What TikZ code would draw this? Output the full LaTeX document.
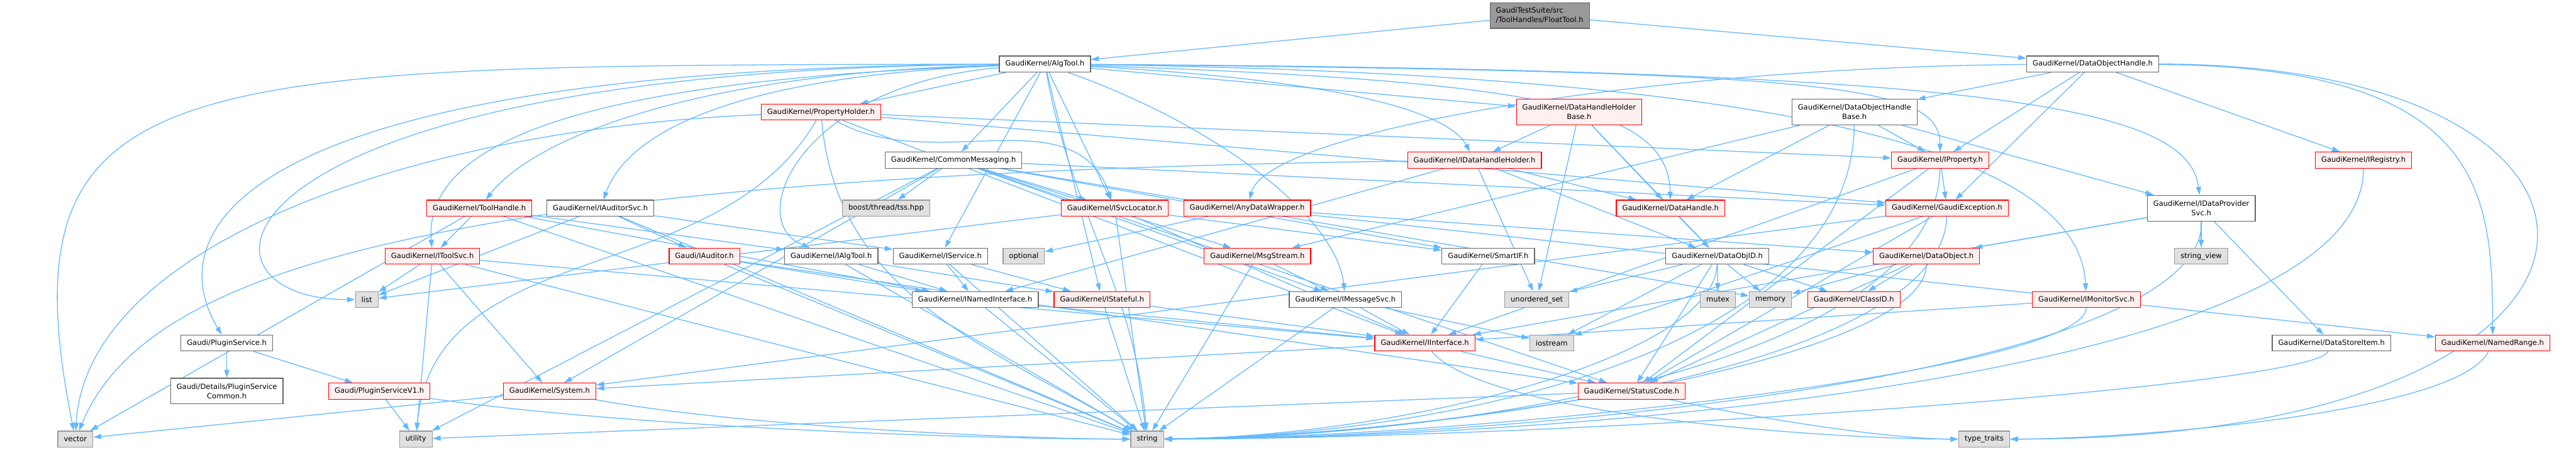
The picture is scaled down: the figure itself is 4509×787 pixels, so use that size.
\documentclass[tikz,border=0pt]{standalone}
\usepackage{fontspec}
\setmainfont{DejaVu Sans}
\usetikzlibrary{arrows.meta,backgrounds}
\definecolor{incblue}{RGB}{99,184,255}
\definecolor{incred}{RGB}{255,0,0}
\definecolor{incredbg}{RGB}{255,240,240}
\definecolor{incgrey}{RGB}{102,102,102}
\definecolor{incsys}{RGB}{153,153,153}
\definecolor{incsysbg}{RGB}{224,224,224}
\definecolor{incroot}{RGB}{153,153,153}

\begin{document}
\begin{tikzpicture}[
  x=0.005cm, y=0.005cm,
  every node/.style={font=\fontsize{1.81}{2.37}\selectfont},
  hdr/.style={rectangle,draw=incgrey,fill=white,line width=0.18pt,inner xsep=0.0525cm,inner ysep=0pt,minimum height=0.14cm,align=center},
  cut/.style={hdr,draw=incred,fill=incredbg},
  sys/.style={hdr,draw=incsys,fill=incsysbg},
  two/.style={minimum height=0.225cm},
  arr/.style={-{Triangle[length=0.7mm,width=0.45mm]},line width=0.2pt,draw=incblue}
]
\useasboundingbox (0,0) rectangle (4509,787);

\node[hdr,fill=incroot,align=left,two] (floattool) at (2695,760) {GaudiTestSuite/src\\/ToolHandles/FloatTool.h};
\node[hdr] (algtool) at (1829,675) {GaudiKernel/AlgTool.h};
\node[hdr] (dohandle) at (3663,675) {GaudiKernel/DataObjectHandle.h};
\node[cut] (propholder) at (1437,591) {GaudiKernel/PropertyHolder.h};
\node[cut,two] (dhhbase) at (2764,591) {GaudiKernel/DataHandleHolder\\Base.h};
\node[hdr,two] (dohbase) at (3246,591) {GaudiKernel/DataObjectHandle\\Base.h};
\node[hdr] (commsg) at (1669,507) {GaudiKernel/CommonMessaging.h};
\node[cut] (idhholder) at (2581,507) {GaudiKernel/IDataHandleHolder.h};
\node[cut] (iprop) at (3396,507) {GaudiKernel/IProperty.h};
\node[cut] (iregistry) at (4137,507) {GaudiKernel/IRegistry.h};
\node[cut] (toolhandle) at (839,423) {GaudiKernel/ToolHandle.h};
\node[hdr] (iauditorsvc) at (1051,423) {GaudiKernel/IAuditorSvc.h};
\node[sys] (tss) at (1551,423) {boost/thread/tss.hpp};
\node[cut] (isvcloc) at (1951,423) {GaudiKernel/ISvcLocator.h};
\node[cut] (anydata) at (2183,423) {GaudiKernel/AnyDataWrapper.h};
\node[cut] (datahandle) at (2924,423) {GaudiKernel/DataHandle.h};
\node[cut] (gaudiexc) at (3408,423) {GaudiKernel/GaudiException.h};
\node[hdr,two] (idpsvc) at (3853,423) {GaudiKernel/IDataProvider\\Svc.h};
\node[cut] (itoolsvc) at (757,339) {GaudiKernel/IToolSvc.h};
\node[cut] (iauditor) at (1233,339) {Gaudi/IAuditor.h};
\node[hdr] (ialgtool) at (1455,339) {GaudiKernel/IAlgTool.h};
\node[hdr] (iservice) at (1646,339) {GaudiKernel/IService.h};
\node[sys] (optional) at (1792,339) {optional};
\node[cut] (msgstream) at (2201,339) {GaudiKernel/MsgStream.h};
\node[hdr] (smartif) at (2605,339) {GaudiKernel/SmartIF.h};
\node[hdr] (dataobjid) at (3006,339) {GaudiKernel/DataObjID.h};
\node[cut] (dataobject) at (3372,339) {GaudiKernel/DataObject.h};
\node[sys] (stringview) at (3853,339) {string\_view};
\node[sys] (list) at (642,263) {list};
\node[hdr] (inamedif) at (1707,263) {GaudiKernel/INamedInterface.h};
\node[cut] (istateful) at (1929,263) {GaudiKernel/IStateful.h};
\node[hdr] (imsgsvc) at (2355,263) {GaudiKernel/IMessageSvc.h};
\node[sys] (unordset) at (2690,263) {unordered\_set};
\node[sys] (mutex) at (3007,263) {mutex};
\node[sys] (memory) at (3099,263) {memory};
\node[cut] (classid) at (3245,263) {GaudiKernel/ClassID.h};
\node[cut] (imonsvc) at (3652,263) {GaudiKernel/IMonitorSvc.h};
\node[hdr] (pluginsvc) at (397,187) {Gaudi/PluginService.h};
\node[cut] (iinterface) at (2494,187) {GaudiKernel/IInterface.h};
\node[sys] (iostream) at (2716,187) {iostream};
\node[hdr] (datastoreitem) at (4081,187) {GaudiKernel/DataStoreItem.h};
\node[cut] (namedrange) at (4363,187) {GaudiKernel/NamedRange.h};
\node[hdr,two] (pscommon) at (397,103) {Gaudi/Details/PluginService\\Common.h};
\node[cut] (psv1) at (664,103) {Gaudi/PluginServiceV1.h};
\node[cut] (system) at (962,103) {GaudiKernel/System.h};
\node[cut] (statuscode) at (2856,103) {GaudiKernel/StatusCode.h};
\node[sys] (vector) at (132,19) {vector};
\node[sys] (utility) at (728,19) {utility};
\node[sys] (string) at (2008,19) {string};
\node[sys] (typetraits) at (3473,19) {type\_traits};

\begin{scope}[on background layer]
\draw[arr] (floattool) -- (algtool);
\draw[arr] (floattool) -- (dohandle);

\draw[arr] (algtool) -- (propholder);
\draw[arr] (algtool) -- (commsg);
\draw[arr] (algtool) -- (isvcloc);
\draw[arr] (algtool) -- (istateful);
\draw[arr] (algtool) -- (dhhbase);
\draw[arr] (algtool) -- (iservice);
\draw[arr] (algtool) .. controls (2300,650) and (2530,600) .. (idhholder);
\draw[arr] (algtool) .. controls (2150,560) and (2340,400) .. (imsgsvc);
\draw[arr] (algtool) .. controls (2700,645) and (2920,600) .. (datahandle);
\draw[arr] (algtool) .. controls (3200,662) and (3395,640) .. (iprop);
\draw[arr] (algtool) .. controls (3500,665) and (3830,600) .. (idpsvc);
\draw[arr] (algtool) .. controls (3300,655) and (3640,480) .. (imonsvc);
\draw[arr] (algtool) .. controls (1200,660) and (930,540) .. (toolhandle);
\draw[arr] (algtool) .. controls (1300,655) and (1100,560) .. (iauditorsvc);
\draw[arr] (algtool) .. controls (1100,650) and (740,560) .. (itoolsvc);
\draw[arr] (algtool) .. controls (1400,640) and (1300,400) .. (ialgtool);
\draw[arr] (algtool) .. controls (400,668) and (280,380) .. (pluginsvc);
\draw[arr] (algtool) .. controls (350,665) and (300,263) .. (list);
\draw[arr] (algtool) .. controls (300,672) and (0,680) .. (vector);
\draw[arr] (algtool) to[out=-80,in=95] (string);

\draw[arr] (dohandle) -- (dohbase);
\draw[arr] (dohandle) -- (iprop);
\draw[arr] (dohandle) -- (gaudiexc);
\draw[arr] (dohandle) -- (iregistry);
\draw[arr] (dohandle) .. controls (2900,670) and (2220,560) .. (anydata);
\draw[arr] (dohandle) .. controls (4350,670) and (4363,450) .. (namedrange);
\draw[arr] (dohandle) .. controls (4700,675) and (4700,19) .. (typetraits);

\draw[arr] (propholder) -- (iprop);
\draw[arr] (propholder) -- (gaudiexc);
\draw[arr] (propholder) to[out=-30,in=110] (isvcloc);
\draw[arr] (propholder) .. controls (700,560) and (150,350) .. (vector);
\draw[arr] (propholder) to[out=-120,in=85] (utility);
\draw[arr] (propholder) to[out=-85,in=150] (string);
\draw[arr] (propholder) -- (iinterface);

\draw[arr] (dhhbase) -- (idhholder);
\draw[arr] (dhhbase) -- (datahandle);
\draw[arr] (dhhbase) -- (dataobjid);
\draw[arr] (dhhbase) -- (unordset);

\draw[arr] (dohbase) -- (datahandle);
\draw[arr] (dohbase) -- (iprop);
\draw[arr] (dohbase) -- (idpsvc);
\draw[arr] (dohbase) -- (msgstream);
\draw[arr] (dohbase) .. controls (3240,160) and (2500,24) .. (string);

\draw[arr] (commsg) -- (tss);
\draw[arr] (commsg) -- (isvcloc);
\draw[arr] (commsg) -- (gaudiexc);
\draw[arr] (commsg) -- (imsgsvc);
\draw[arr] (commsg) -- (msgstream);
\draw[arr] (commsg) -- (smartif);
\draw[arr] (commsg) -- (statuscode);
\draw[arr] (commsg) -- (system);
\draw[arr] (commsg) -- (memory);
\draw[arr] (commsg) -- (utility);

\draw[arr] (idhholder) -- (datahandle);
\draw[arr] (idhholder) -- (dataobjid);
\draw[arr] (idhholder) -- (inamedif);
\draw[arr] (idhholder) -- (unordset);
\draw[arr] (idhholder) .. controls (700,480) and (250,300) .. (vector);

\draw[arr] (iprop) -- (gaudiexc);
\draw[arr] (iprop) -- (iinterface);
\draw[arr] (iprop) -- (statuscode);
\draw[arr] (iprop) .. controls (3390,150) and (2550,22) .. (string);

\draw[arr] (iregistry) .. controls (4137,120) and (2700,20) .. (string);

\draw[arr] (toolhandle) -- (itoolsvc);
\draw[arr] (toolhandle) -- (ialgtool);
\draw[arr] (toolhandle) -- (inamedif);
\draw[arr] (toolhandle) -- (vector);
\draw[arr] (toolhandle) -- (string);

\draw[arr] (iauditorsvc) -- (iauditor);
\draw[arr] (iauditorsvc) -- (iservice);
\draw[arr] (iauditorsvc) -- (string);
\draw[arr] (iauditorsvc) -- (list);

\draw[arr] (iauditor) -- (inamedif);
\draw[arr] (iauditor) -- (string);
\draw[arr] (iauditor) -- (statuscode);

\draw[arr] (itoolsvc) -- (list);
\draw[arr] (itoolsvc) -- (system);
\draw[arr] (itoolsvc) -- (iinterface);
\draw[arr] (itoolsvc) -- (string);
\draw[arr] (itoolsvc) -- (utility);

\draw[arr] (ialgtool) -- (inamedif);
\draw[arr] (ialgtool) -- (istateful);
\draw[arr] (ialgtool) -- (string);

\draw[arr] (iservice) -- (inamedif);
\draw[arr] (iservice) -- (istateful);
\draw[arr] (iservice) -- (string);

\draw[arr] (isvcloc) -- (iinterface);
\draw[arr] (isvcloc) -- (smartif);
\draw[arr] (isvcloc) -- (list);
\draw[arr] (isvcloc) -- (string);

\draw[arr] (anydata) -- (dataobject);
\draw[arr] (anydata) -- (namedrange);
\draw[arr] (anydata) -- (optional);

\draw[arr] (datahandle) -- (dataobjid);

\draw[arr] (gaudiexc) -- (statuscode);
\draw[arr] (gaudiexc) -- (iostream);
\draw[arr] (gaudiexc) .. controls (3400,140) and (2520,26) .. (string);
\draw[arr] (gaudiexc) -- (system);

\draw[arr] (idpsvc) -- (dataobject);
\draw[arr] (idpsvc) -- (stringview);
\draw[arr] (idpsvc) -- (datastoreitem);
\draw[arr] (idpsvc) -- (iinterface);
\draw[arr] (idpsvc) .. controls (3860,130) and (2650,20) .. (string);

\draw[arr] (msgstream) -- (imsgsvc);
\draw[arr] (msgstream) -- (string);

\draw[arr] (smartif) -- (iinterface);

\draw[arr] (dataobjid) -- (classid);
\draw[arr] (dataobjid) -- (statuscode);
\draw[arr] (dataobjid) -- (iostream);
\draw[arr] (dataobjid) -- (mutex);
\draw[arr] (dataobjid) -- (memory);
\draw[arr] (dataobjid) -- (unordset);
\draw[arr] (dataobjid) .. controls (3000,160) and (2450,24) .. (string);

\draw[arr] (dataobject) -- (classid);
\draw[arr] (dataobject) -- (memory);
\draw[arr] (dataobject) -- (statuscode);
\draw[arr] (dataobject) .. controls (3370,150) and (2480,22) .. (string);

\draw[arr] (imonsvc) -- (iinterface);
\draw[arr] (imonsvc) .. controls (3650,140) and (2600,22) .. (string);

\draw[arr] (inamedif) -- (iinterface);
\draw[arr] (inamedif) -- (string);
\draw[arr] (istateful) -- (iinterface);
\draw[arr] (istateful) -- (string);
\draw[arr] (imsgsvc) -- (iinterface);
\draw[arr] (imsgsvc) -- (string);
\draw[arr] (imsgsvc) -- (iostream);

\draw[arr] (iinterface) -- (statuscode);
\draw[arr] (iinterface) -- (system);
\draw[arr] (iinterface) .. controls (2600,60) and (3200,19) .. (typetraits);

\draw[arr] (pluginsvc) -- (pscommon);
\draw[arr] (pluginsvc) -- (psv1);
\draw[arr] (psv1) -- (utility);
\draw[arr] (psv1) .. controls (1100,40) and (1700,19) .. (string);
\draw[arr] (system) -- (vector);
\draw[arr] (system) .. controls (1300,40) and (1800,19) .. (string);
\draw[arr] (statuscode) -- (utility);
\draw[arr] (statuscode) .. controls (3050,60) and (3300,19) .. (typetraits);
\draw[arr] (datastoreitem) .. controls (4050,110) and (2750,20) .. (string);
\draw[arr] (namedrange) .. controls (4300,60) and (3700,19) .. (typetraits);
\end{scope}
\end{tikzpicture}
\end{document}
